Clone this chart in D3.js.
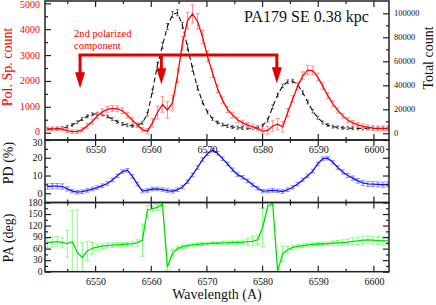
<html>
<head>
<meta charset="utf-8">
<title>PA179 SE 0.38 kpc</title>
<script src="https://d3js.org/d3.v7.min.js"></script>
<style>
body {margin:0; background:white;}
text {font-family:"Liberation Serif","DejaVu Serif",serif;}
</style>
</head>
<body>
<svg width=436 height=305></svg>
<script>
// wavelength grid (A)
var wl = [6541.4,6542.3,6543.2,6544.1,6545.0,6545.9,6546.8,6547.7,6548.6,6549.5,
6550.4,6551.3,6552.2,6553.1,6554.0,6554.9,6555.8,6556.7,6557.6,6558.5,
6559.4,6560.3,6561.2,6562.1,6563.0,6563.9,6564.8,6565.7,6566.6,6567.5,
6568.4,6569.3,6570.2,6571.1,6572.0,6572.9,6573.8,6574.7,6575.6,6576.5,
6577.4,6578.3,6579.2,6580.1,6581.0,6581.9,6582.8,6583.7,6584.6,6585.5,
6586.4,6587.3,6588.2,6589.1,6590.0,6590.9,6591.8,6592.7,6593.6,6594.5,
6595.4,6596.3,6597.2,6598.1,6599.0,6599.9,6600.8,6601.7,6602.6];

// polarized spectrum count (left axis)
var polCount = [150,150,160,140,80,40,40,110,270,430,
650,810,900,940,920,850,680,480,300,120,
60,380,780,1090,880,1150,2200,3450,4330,4590,
4300,3700,2950,2300,1700,1250,900,680,500,380,
290,230,170,60,90,260,330,230,780,1300,
1800,2200,2420,2400,2150,1800,1430,1120,860,650,
490,380,300,250,210,180,170,170,170];
var polErr = [70,70,70,70,70,70,70,80,90,100,
110,110,110,110,110,110,110,100,90,90,
100,160,250,300,320,300,260,260,320,350,
300,260,210,170,150,130,120,110,100,100,
100,100,100,100,150,200,220,200,150,130,
140,150,180,170,150,130,120,110,100,90,
90,90,90,90,90,90,90,90,90];

// total count (right axis)
var totCount = [3500,3600,3800,4300,5300,7000,9200,11800,14200,15800,
16300,15700,14000,11800,9600,7800,6700,6200,6500,8800,
16000,35000,57000,73000,89000,99000,100500,90000,72000,54000,
38000,26000,17500,12000,9000,7200,6000,5200,4700,4400,
4200,4200,4600,6500,11000,22000,32000,39500,43000,43500,
40500,34000,26000,18500,13000,9000,6800,5600,4900,4500,
4300,4200,4100,4100,4000,4000,4000,4000,4000];
var totErr = [1200,1200,1200,1200,1200,1200,1200,1200,1200,1200,
1200,1200,1200,1200,1200,1200,1200,1200,1200,1200,
1500,1800,2200,2500,2500,2500,2500,2500,2500,2200,
1800,1500,1300,1200,1200,1200,1200,1200,1200,1200,
1200,1200,1200,1200,1500,1500,1500,1500,1500,1500,
1500,1500,1500,1500,1200,1200,1200,1200,1200,1200,
1200,1200,1200,1200,1200,1200,1200,1200,1200];

// polarization degree (%)
var pd = [3.8,4.0,4.0,3.8,2.5,1.2,0.6,0.9,1.6,2.4,
3.2,4.3,5.5,7.5,9.8,12.2,13.0,9.5,5.2,1.2,
1.6,2.4,2.5,2.1,1.5,1.1,2.0,3.5,6.5,10.3,
14.5,19.0,22.2,24.3,22.5,19.5,16.5,13.2,10.5,9.0,
7.0,4.8,2.8,1.2,1.3,1.6,1.4,1.0,2.0,3.4,
5.2,7.5,9.8,12.5,16.5,19.5,19.8,17.5,14.5,12.0,
10.0,8.5,7.0,5.8,5.3,5.2,5.0,4.8,5.0];
var pdErr = [1.5,1.5,1.5,1.5,1.2,1.0,1.0,1.0,1.0,1.0,
1.0,1.0,1.0,1.0,1.0,1.0,1.0,1.0,1.0,1.0,
1.0,1.0,1.0,1.0,1.0,1.0,1.0,1.0,1.0,1.0,
1.0,1.0,1.0,1.0,1.0,1.0,1.0,1.0,1.0,1.0,
1.0,1.0,1.0,1.0,1.0,1.0,1.0,1.0,1.0,1.0,
1.0,1.0,1.0,1.0,1.0,1.0,1.0,1.0,1.0,1.2,
1.2,1.2,1.3,1.4,1.4,1.4,1.4,1.4,1.4];

// polarization angle (deg)
var pa = [76,77,78,76,73,78,50,37,54,61,
64,67,68,69,70,71,72,73,75,82,
160,164,167,176,12,48,60,65,68,70,
71,72,73,74,74,75,75,76,76,77,
78,79,83,115,170,178,2,47,57,63,
66,68,70,71,72,72,73,74,75,76,
77,79,80,82,83,82,81,80,80];
var paErr = [13,13,13,12,35,80,110,38,25,15,
8,7,6,6,5,5,5,6,8,42,
12,8,8,6,8,10,6,5,4,4,
4,4,4,4,4,4,4,4,4,5,
8,12,12,50,10,6,5,20,8,5,
4,4,4,4,4,4,5,6,6,7,
8,9,10,10,10,10,10,10,10];

var xMajor = [6550,6560,6570,6580,6590,6600];
var xMinor = [6545,6555,6565,6575,6585,6595];
var polTicks = [0,1000,2000,3000,4000,5000];
var polMinor = [500,1500,2500,3500,4500];
var totTicks = [0,20000,40000,60000,80000,100000];
var totMinor = [10000,30000,50000,70000,90000];
var pdTicks = [0,10,20,30];
var pdMinor = [5,15,25];
var paTicks = [0,30,60,90,120,150,180];
var paMinor = [15,45,75,105,135,165];

// annotation arrows: wavelength of each arrow, tip height (pol. count), bar height
var arrowWl = [6547.3,6561.9,6582.65];
var arrowTip = [1720,1870,1910];
var arrowBar = 3000;

var L = 45, R = 389;
var x = d3.scaleLinear().domain([6541.0,6602.8]).range([L,R]);
var yPol = d3.scaleLinear().domain([-282,5089]).range([140,1]);
var yTot = d3.scaleLinear().domain([-5583,110250]).range([140,1]);
var yPD = d3.scaleLinear().domain([-5.2,30]).range([202.5,140]);
var yPA = d3.scaleLinear().domain([0,180]).range([271.7,202.5]);

var panels = [{id:"p1",top:1,bottom:140},{id:"p2",top:140,bottom:202.5},{id:"p3",top:202.5,bottom:271.7}];

var svg = d3.select("svg");
var defs = svg.append("defs");
panels.forEach(function(p){
  defs.append("clipPath").attr("id",p.id).append("rect")
    .attr("x",L).attr("y",p.top).attr("width",R-L).attr("height",p.bottom-p.top);
});

function errorBars(g, vals, errs, y, color, cap, w) {
  g.selectAll(null).data(wl).enter().append("path")
    .attr("d", function(d,i){
      var xx = x(d), y1 = y(vals[i]-errs[i]), y2 = y(vals[i]+errs[i]);
      return "M"+xx+","+y1+"V"+y2+"M"+(xx-cap)+","+y1+"h"+(2*cap)+"M"+(xx-cap)+","+y2+"h"+(2*cap);
    })
    .style("fill","none").style("stroke",color).style("stroke-width",w);
}
function series(g, vals, y, color, dash, w) {
  g.append("path").datum(vals)
    .attr("d", d3.line().x(function(d,i){return x(wl[i]);}).y(function(d){return y(d);}))
    .style("fill","none").style("stroke",color).style("stroke-width",w)
    .style("stroke-dasharray",dash);
}

// top panel
var g1 = svg.append("g").attr("clip-path","url(#p1)");
errorBars(g1, totCount, totErr, yTot, "#444", 1.3, 0.8);
series(g1, totCount, yTot, "#111", "5,3", 1.1);
errorBars(g1, polCount, polErr, yPol, "#ff9090", 2, 1);
series(g1, polCount, yPol, "#ff0000", null, 1.3);

// middle panel
var g2 = svg.append("g").attr("clip-path","url(#p2)");
errorBars(g2, pd, pdErr, yPD, "#8c8cff", 2.2, 1);
series(g2, pd, yPD, "#1010ff", null, 1.3);

// bottom panel
var g3 = svg.append("g").attr("clip-path","url(#p3)");
errorBars(g3, pa, paErr, yPA, "#80ff80", 2.2, 1);
series(g3, pa, yPA, "#00dd00", null, 1.3);

// ticks
function ticks(axis, tx, ty) {
  svg.append("g").attr("transform","translate("+tx+","+ty+")")
    .call(axis.tickFormat(""))
    .call(function(g){ g.select(".domain").remove(); g.selectAll("line").style("stroke","#222").style("stroke-width",1.2); });
}
panels.forEach(function(p){
  ticks(d3.axisBottom(x).tickValues(xMajor).tickSize(-6), 0, p.bottom);
  ticks(d3.axisBottom(x).tickValues(xMinor).tickSize(-3), 0, p.bottom);
  ticks(d3.axisTop(x).tickValues(xMajor).tickSize(-6), 0, p.top);
  ticks(d3.axisTop(x).tickValues(xMinor).tickSize(-3), 0, p.top);
});
ticks(d3.axisLeft(yPol).tickValues(polTicks).tickSize(-6), L, 0);
ticks(d3.axisLeft(yPol).tickValues(polMinor).tickSize(-3), L, 0);
ticks(d3.axisRight(yTot).tickValues(totTicks).tickSize(-6), R, 0);
ticks(d3.axisRight(yTot).tickValues(totMinor).tickSize(-3), R, 0);
[L,R].forEach(function(ax){
  var f = ax==L ? d3.axisLeft : d3.axisRight;
  ticks(f(yPD).tickValues(pdTicks).tickSize(-6), ax, 0);
  ticks(f(yPD).tickValues(pdMinor).tickSize(-3), ax, 0);
  ticks(f(yPA).tickValues(paTicks).tickSize(-6), ax, 0);
  ticks(f(yPA).tickValues(paMinor).tickSize(-3), ax, 0);
});

// frames
panels.forEach(function(p){
  svg.append("rect").attr("x",L).attr("y",p.top).attr("width",R-L).attr("height",p.bottom-p.top)
    .style("fill","none").style("stroke","#222").style("stroke-width",1.5);
});

// tick labels
function labels(vals, fx, fy, anchor, size, color) {
  svg.append("g").selectAll("text").data(vals).enter().append("text")
    .attr("x",fx).attr("y",fy).attr("dy",anchor=="middle"?null:"0.35em")
    .style("text-anchor",anchor).style("font-size",size+"px").style("fill",color)
    .text(function(d){return d;});
}
labels(polTicks, 40, function(d){return d==0 ? yPol(d)-1 : Math.max(yPol(d),4.5);}, "end", 10, "#ff0000");
labels(totTicks, 394, function(d){return yTot(d);}, "start", 8.5, "#111");
labels(pdTicks, 42.5, function(d){return d==30 ? yPD(d)+2.5 : yPD(d);}, "end", 10, "#111");
labels(paTicks, 42.5, function(d){return yPA(d);}, "end", 9.5, "#111");
labels(xMajor, function(d){return x(d)+1;}, 152.5, "middle", 10, "#111");
labels(xMajor, function(d){return x(d)+1;}, 285, "middle", 10, "#111");

// axis titles
svg.append("text").attr("transform","translate(12,67) rotate(-90)").style("text-anchor","middle")
  .style("font-size","14px").style("fill","#ff0000").text("Pol. Sp. count");
svg.append("text").attr("transform","translate(433,58) rotate(-90)").style("text-anchor","middle")
  .style("font-size","14px").style("fill","#111").text("Total count");
svg.append("text").attr("transform","translate(13,163) rotate(-90)").style("text-anchor","middle")
  .style("font-size","14px").style("fill","#111").text("PD (%)");
svg.append("text").attr("transform","translate(13,238) rotate(-90)").style("text-anchor","middle")
  .style("font-size","14px").style("fill","#111").text("PA (deg)");
svg.append("text").attr("x",217).attr("y",299).style("text-anchor","middle")
  .style("font-size","14px").style("fill","#111").text("Wavelength (A)");

// title
svg.append("text").attr("x",244).attr("y",22).style("font-size","16px").style("fill","#111").text("PA179 SE 0.38 kpc");

// annotation
svg.append("text").attr("x",74).attr("y",37).style("font-size","10.5px").style("fill","#ff0000").text("2nd polarized");
svg.append("text").attr("x",74).attr("y",48.5).style("font-size","10.5px").style("fill","#ff0000").text("component");
var ya = yPol(arrowBar);
svg.append("line").attr("x1",x(arrowWl[0])-1.5).attr("x2",x(arrowWl[2])+1.5).attr("y1",ya).attr("y2",ya)
  .style("stroke","#e00000").style("stroke-width",3);
svg.append("g").selectAll("line").data(arrowWl).enter().append("line")
  .attr("x1",function(d){return x(d);}).attr("x2",function(d){return x(d);})
  .attr("y1",ya).attr("y2",function(d,i){return yPol(arrowTip[i])-12;})
  .style("stroke","#e00000").style("stroke-width",3);
svg.append("g").selectAll("path").data(arrowWl).enter().append("path")
  .attr("d",function(d,i){ var xx=x(d), t=yPol(arrowTip[i]); return "M"+(xx-5)+","+(t-16)+"L"+(xx+5)+","+(t-16)+"L"+xx+","+t+"Z"; })
  .style("fill","#e00000");
</script>
</body>
</html>
